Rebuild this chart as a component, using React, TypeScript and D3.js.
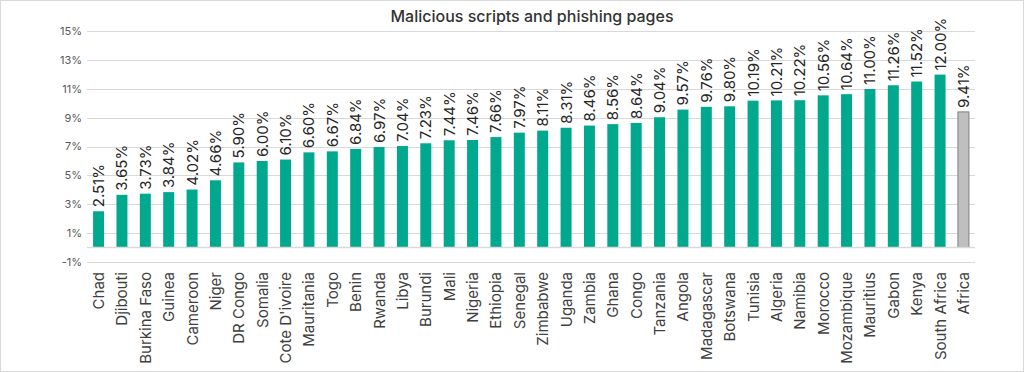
import React, { useEffect, useRef } from 'react';
import * as d3 from 'd3';

const COUNTRIES = [
  'Chad', 'Djibouti', 'Burkina Faso', 'Guinea', 'Cameroon', 'Niger', 'DR Congo', 'Somalia',
  "Cote D'ivoire", 'Mauritania', 'Togo', 'Benin', 'Rwanda', 'Libya', 'Burundi', 'Mali',
  'Nigeria', 'Ethiopia', 'Senegal', 'Zimbabwe', 'Uganda', 'Zambia', 'Ghana', 'Congo',
  'Tanzania', 'Angola', 'Madagascar', 'Botswana', 'Tunisia', 'Algeria', 'Namibia', 'Morocco',
  'Mozambique', 'Mauritius', 'Gabon', 'Kenya', 'South Africa', 'Africa',
];

const SHARES = [
  2.51, 3.65, 3.73, 3.84, 4.02, 4.66, 5.9, 6.0,
  6.1, 6.6, 6.67, 6.84, 6.97, 7.04, 7.23, 7.44,
  7.46, 7.66, 7.97, 8.11, 8.31, 8.46, 8.56, 8.64,
  9.04, 9.57, 9.76, 9.8, 10.19, 10.21, 10.22, 10.56,
  10.64, 11.0, 11.26, 11.52, 12.0, 9.41,
];

const Y_TICKS = [-1, 1, 3, 5, 7, 9, 11, 13, 15];

const TITLE = 'Malicious scripts and phishing pages';

const App = () => {
  const ref = useRef<SVGSVGElement>(null);

  useEffect(() => {
    const W = 1024, H = 372;
    const svg = d3.select(ref.current);
    svg.selectAll('*').remove();

    const font = 'Inter, "Open Sans", sans-serif';

    svg.append('rect').attr('x', 0.5).attr('y', 0.5).attr('width', W - 1).attr('height', H - 1)
      .attr('fill', '#fff').attr('stroke', '#d9d9d9');

    const left = 87, right = 975;
    const x = d3.scaleBand().domain(COUNTRIES).range([left, right]).paddingInner(0.53).paddingOuter(0.26);
    const y = d3.scaleLinear().domain([-1, 15]).range([261.8, 31.4]);

    svg.append('text').attr('x', (left + right) / 2 + 1).attr('y', 22).attr('text-anchor', 'middle')
      .attr('font-family', font).attr('font-size', 16).attr('font-weight', 500).attr('fill', '#333')
      .text(TITLE);

    const grid = svg.append('g');
    grid.selectAll('line').data(Y_TICKS).enter().append('line')
      .attr('x1', left).attr('x2', right)
      .attr('y1', (d) => Math.round(y(d)) + 0.5).attr('y2', (d) => Math.round(y(d)) + 0.5)
      .attr('stroke', '#d9d9d9').attr('stroke-width', 1);

    svg.append('g').selectAll('text').data(Y_TICKS).enter().append('text')
      .attr('x', 82).attr('y', (d) => y(d)).attr('dy', '0.35em').attr('text-anchor', 'end')
      .attr('font-family', font).attr('font-size', 11).attr('fill', '#595959')
      .text((d) => `${d}%`);

    const last = COUNTRIES.length - 1;
    svg.append('g').selectAll('rect').data(SHARES).enter().append('rect')
      .attr('x', (d, i) => x(COUNTRIES[i])!)
      .attr('width', x.bandwidth())
      .attr('y', (d) => y(d))
      .attr('height', (d) => y(0) - y(d))
      .attr('fill', (d, i) => (i === last ? '#bfbfbf' : '#00a88e'))
      .attr('stroke', (d, i) => (i === last ? '#7f7f7f' : 'none'))
      .attr('stroke-width', 1);

    svg.append('line').attr('x1', left).attr('x2', right)
      .attr('y1', Math.round(y(0)) + 0.5).attr('y2', Math.round(y(0)) + 0.5)
      .attr('stroke', '#d9d9d9').attr('stroke-width', 1.5);

    svg.append('g').selectAll('text').data(SHARES).enter().append('text')
      .attr('transform', (d, i) => `translate(${x(COUNTRIES[i])! + x.bandwidth() / 2 + 5.5},${y(d) - 4}) rotate(-90)`)
      .attr('font-family', font).attr('font-size', 15).attr('fill', '#262626')
      .text((d) => `${d.toFixed(2)}%`);

    svg.append('g').selectAll('text').data(COUNTRIES).enter().append('text')
      .attr('transform', (d) => `translate(${x(d)! + x.bandwidth() / 2 + 5.5},272) rotate(-90)`)
      .attr('text-anchor', 'end')
      .attr('font-family', font).attr('font-size', 15).attr('fill', '#404040')
      .text((d) => d);
  }, []);

  return (
    <div style={{ position: 'absolute', left: 0, top: 0 }}>
      <svg ref={ref} width={1024} height={372} style={{ display: 'block' }} />
    </div>
  );
};

export default App;
